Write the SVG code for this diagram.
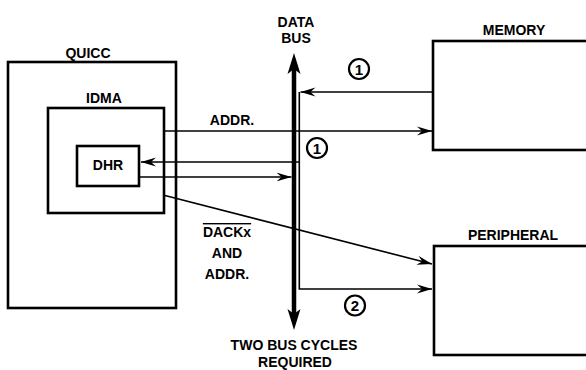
<svg xmlns="http://www.w3.org/2000/svg" width="586" height="370" viewBox="0 0 586 370">
<style>
  text { font-family: "Liberation Sans", Arial, sans-serif; font-weight: bold; font-size: 14px; fill: #000; text-anchor: middle; }
  .box { fill: none; stroke: #000; stroke-width: 2.6; }
  .wire { fill: none; stroke: #000; stroke-width: 1.6; }
  .bus { fill: none; stroke: #000; stroke-width: 4.5; }
  .num { fill: none; stroke: #000; stroke-width: 2.2; }
  .numt { font-size: 15px; }
</style>
<defs>
  <marker id="arr" markerUnits="userSpaceOnUse" viewBox="-15 -5 16 10" refX="0" refY="0" markerWidth="16" markerHeight="10" orient="auto">
    <path d="M0,0 L-15,-4.5 L-10,0 L-15,4.5 Z" fill="#000"/>
  </marker>
</defs>
<rect width="586" height="370" fill="#fff"/>

<g id="quicc">
  <rect class="box" x="8" y="62" width="168" height="246"/>
  <text x="88" y="58">QUICC</text>
</g>
<g id="idma">
  <rect class="box" x="48" y="108" width="116" height="105"/>
  <text x="104" y="103">IDMA</text>
</g>
<g id="dhr">
  <rect class="box" x="77" y="146" width="62" height="40"/>
  <text x="108" y="170">DHR</text>
</g>
<g id="memory">
  <rect class="box" x="433" y="41" width="160" height="109"/>
  <text x="514" y="35">MEMORY</text>
</g>
<g id="peripheral">
  <rect class="box" x="434" y="246" width="160" height="109"/>
  <text x="513" y="240">PERIPHERAL</text>
</g>
<g id="databus">
  <line class="bus" x1="294" y1="68" x2="294" y2="316" />
  <path d="M294,53 L287.5,74 L294,69 L300.5,74 Z" fill="#000"/>
  <path d="M294,330 L287.5,309 L294,314 L300.5,309 Z" fill="#000"/>
  <text x="296" y="27">DATA</text>
  <text x="296" y="43">BUS</text>
  <text x="294" y="350">TWO BUS CYCLES</text>
  <text x="295" y="367">REQUIRED</text>
</g>

<g id="connectors">
  <line class="wire" x1="433" y1="92" x2="300.5" y2="92" marker-end="url(#arr)"/>
  <path class="wire" d="M299.3,92 V289 H432" marker-end="url(#arr)"/>
  <line class="wire" x1="299.3" y1="162" x2="141" y2="162" marker-end="url(#arr)"/>
  <line class="wire" x1="139" y1="177" x2="291.5" y2="177" marker-end="url(#arr)"/>
  <line class="wire" x1="164" y1="131" x2="432" y2="131" marker-end="url(#arr)"/>
  <line class="wire" x1="163" y1="195" x2="432" y2="264" marker-end="url(#arr)"/>
  <text x="232" y="125">ADDR.</text>
  <text x="227" y="237" style="text-decoration: overline;">DACKx</text>
  <text x="227" y="258">AND</text>
  <text x="227" y="279">ADDR.</text>
</g>

<g id="step1a">
  <circle class="num" cx="359" cy="69" r="10"/>
  <text class="numt" x="359" y="74.5">1</text>
</g>
<g id="step1b">
  <circle class="num" cx="317" cy="148" r="10"/>
  <text class="numt" x="317" y="153.5">1</text>
</g>
<g id="step2">
  <circle class="num" cx="355" cy="305.5" r="10"/>
  <text class="numt" x="355" y="311">2</text>
</g>
</svg>
